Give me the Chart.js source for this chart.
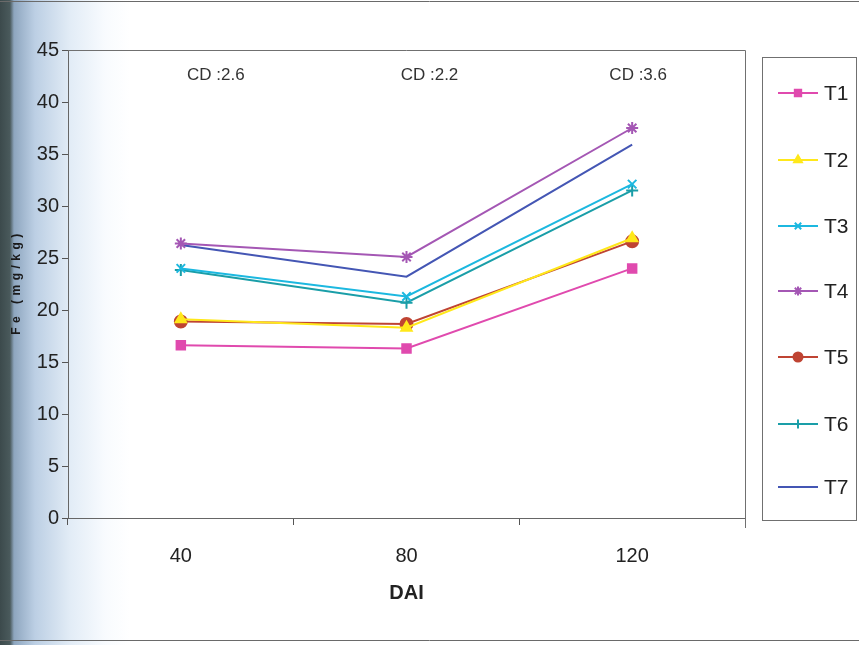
<!DOCTYPE html>
<html>
<head>
<meta charset="utf-8">
<script src="https://cdn.jsdelivr.net/npm/chart.js@4/dist/chart.umd.min.js"></script>
<style>
  html, body { margin: 0; padding: 0; }
  body {
    width: 859px; height: 645px; overflow: hidden;
    background: linear-gradient(to right, #3c4a4c 0px, #4a5a5c 10px, #8ea6bf 14px, #bccfe4 35px, #e2ecf6 70px, #f8fbfe 105px, #ffffff 130px);
  }
  canvas { display: block; }
</style>
</head>
<body>
<canvas id="chart" width="859" height="645"></canvas>
<script>
'use strict';

// ── Data ─────────────────────────────────────────────────────────────────────
const days    = ['40', '80', '120'];
const t1      = [16.6, 16.3, 24.0];
const t2      = [19.1, 18.3, 26.9];
const t3      = [24.0, 21.3, 32.1];
const t4      = [26.4, 25.1, 37.5];
const t5      = [18.9, 18.65, 26.6];
const t6      = [23.85, 20.7, 31.5];
const t7      = [26.25, 23.2, 35.9];
const cdLabels = ['CD :2.6', 'CD :2.2', 'CD :3.6'];
const yTicks  = [0, 5, 10, 15, 20, 25, 30, 35, 40, 45];
const yTitle  = 'Fe (mg/kg)';

const SANS   = '"Liberation Sans", Arial, sans-serif';
const NARROW = '"Liberation Sans Narrow", "Liberation Sans", Arial, sans-serif';

// ── Series styles ────────────────────────────────────────────────────────────
function series(label, data, color, pointStyle, radius) {
  return {
    label, data,
    borderColor: color,
    backgroundColor: color,
    pointBackgroundColor: color,
    pointBorderColor: color,
    pointStyle,
    pointRadius: radius,
    pointBorderWidth: 2,
    borderWidth: 2,
    tension: 0,
    fill: false,
  };
}

const datasets = [
  series('T1', t1, '#e04aae', 'rect', 6),
  series('T2', t2, '#ffe81a', 'triangle', 6),
  series('T3', t3, '#1cb8e0', 'crossRot', 6),
  series('T4', t4, '#a457b4', 'star', 6),
  series('T5', t5, '#bf4433', 'circle', 6),
  series('T6', t6, '#1a9ea8', 'cross', 6),
  series('T7', t7, '#4456b4', 'circle', 0),
];

// ── Custom drawing: frame, CD labels, y title, legend box ────────────────────
const decor = {
  id: 'decor',
  beforeDraw(chart) {
    const ctx = chart.ctx;
    ctx.save();
    ctx.strokeStyle = '#6a6a6a';
    ctx.lineWidth = 1;
    ctx.beginPath();
    ctx.moveTo(0, 1.5);   ctx.lineTo(859, 1.5);
    ctx.moveTo(0, 640.5); ctx.lineTo(859, 640.5);
    ctx.stroke();
    ctx.restore();
  },
  afterDraw(chart) {
    const { ctx, chartArea: a, scales: { x } } = chart;
    ctx.save();

    // plot area frame (top + right)
    ctx.strokeStyle = '#707070';
    ctx.lineWidth = 1;
    ctx.beginPath();
    ctx.moveTo(a.left, a.top + 0.5);
    ctx.lineTo(a.right + 0.5, a.top + 0.5);
    ctx.lineTo(a.right + 0.5, a.bottom + 10);
    ctx.stroke();

    // CD annotations
    const cdShift = [35, 23, 6];
    ctx.fillStyle = '#333';
    ctx.font = '17px ' + SANS;
    ctx.textAlign = 'center';
    ctx.textBaseline = 'middle';
    cdLabels.forEach((txt, i) => {
      ctx.fillText(txt, x.getPixelForValue(i) + cdShift[i], 75);
    });

    // y axis title, spaced out like the scan
    ctx.save();
    ctx.translate(17, (a.top + a.bottom) / 2);
    ctx.rotate(-Math.PI / 2);
    ctx.font = 'bold 12px ' + SANS;
    ctx.letterSpacing = '4.5px';
    ctx.fillStyle = '#1a1a1a';
    ctx.fillText(yTitle, 2, 0);
    ctx.restore();

    // legend box
    ctx.strokeStyle = '#707070';
    ctx.lineWidth = 1;
    ctx.strokeRect(762.5, 57.5, 94, 463);
    const rowY = [93, 160, 226, 291, 357, 424, 487];
    ctx.font = '21px ' + SANS;
    ctx.textAlign = 'left';
    datasets.forEach((d, i) => {
      const y = rowY[i];
      ctx.strokeStyle = d.borderColor;
      ctx.lineWidth = 2;
      ctx.beginPath();
      ctx.moveTo(778, y); ctx.lineTo(818, y);
      ctx.stroke();
      if (d.pointRadius > 0) {
        ctx.fillStyle = d.borderColor;
        Chart.helpers.drawPoint(ctx, {
          pointStyle: d.pointStyle, radius: 4.5, rotation: 0, borderWidth: 2,
        }, 798, y);
      }
      ctx.fillStyle = '#222';
      ctx.fillText(d.label, 824, y + 1);
    });
    ctx.restore();
  },
};

// ── Chart ────────────────────────────────────────────────────────────────────
const ctx = document.getElementById('chart').getContext('2d');
new Chart(ctx, {
  type: 'line',
  data: { labels: days, datasets },
  plugins: [decor],
  options: {
    responsive: false,
    animation: false,
    layout: { padding: { left: 0, right: 114, top: 50, bottom: 40 } },
    scales: {
      x: {
        offset: true,
        afterFit: s => { s.height = 645 - 518 - 40; },
        grid: { offset: true, drawOnChartArea: false, tickLength: 7, color: '#555' },
        border: { color: '#666', width: 1 },
        ticks: {
          color: '#222', padding: 19,
          font: { family: SANS, size: 20 },
        },
        title: {
          display: true, text: 'DAI', color: '#222', padding: { top: 0, bottom: 0 },
          font: { family: SANS, size: 20, weight: 'bold' },
        },
      },
      y: {
        min: 0, max: 45,
        afterFit: s => { s.width = 68; },
        afterBuildTicks: s => { s.ticks = yTicks.map(v => ({ value: v })); },
        grid: { drawOnChartArea: false, tickLength: 6, color: '#555' },
        border: { color: '#666', width: 1 },
        ticks: {
          color: '#222', padding: 3,
          font: { family: NARROW, size: 20 },
        },
      },
    },
    plugins: {
      legend: { display: false },
      tooltip: { enabled: false },
    },
  },
});
</script>
</body>
</html>
